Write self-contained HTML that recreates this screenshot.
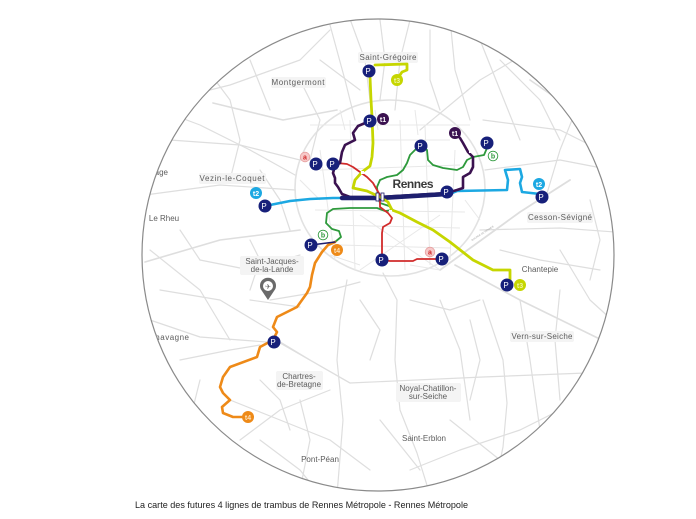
<!DOCTYPE html>
<html><head><meta charset="utf-8"><style>
html,body{margin:0;padding:0;background:#fff;}
svg{display:block}
</style></head><body>
<svg width="696" height="519" viewBox="0 0 696 519" xmlns="http://www.w3.org/2000/svg">
<defs><clipPath id="c"><circle cx="378" cy="255" r="236"/></clipPath></defs>
<rect width="696" height="519" fill="#fff"/>
<g clip-path="url(#c)">
 <g fill="none" stroke="#dedede" stroke-width="1.2" stroke-linecap="round" stroke-linejoin="round">
  <ellipse cx="390" cy="188" rx="95" ry="88" stroke="#e2e2e2" stroke-width="1.6"/>
  <path d="M350,19 L365,60 L370,100"/>
  <path d="M330,25 L345,80 L355,120"/>
  <path d="M410,20 L400,60 L395,110"/>
  <path d="M420,130 L480,80 L540,45"/>
  <path d="M450,19 L455,70 L470,120"/>
  <path d="M213,103 L283,120 L337,110" stroke-width="1.6"/>
  <path d="M150,105 L230,85 L300,60 L330,30"/>
  <path d="M485,170 L560,160 L612,170"/>
  <path d="M480,230 L560,228 L615,232"/>
  <path d="M483,120 L560,130 L600,150"/>
  <path d="M530,80 L563,103 L600,135" stroke-width="1.6"/>
  <path d="M295,190 L220,185 L145,195"/>
  <path d="M300,230 L220,240 L145,262" stroke-width="1.6"/>
  <path d="M170,140 L240,145 L300,160"/>
  <path d="M160,110 L200,125 L250,150 L295,175"/>
  <path d="M150,320 L200,337 L280,343 L350,383 L483,377 L612,372"/>
  <path d="M277,340 L310,360 L350,383"/>
  <path d="M347,280 L340,320 L337,360 L343,420 L337,495"/>
  <path d="M383,273 L397,300 L395,360 L400,410 L417,453 L430,495"/>
  <path d="M483,300 L503,360 L507,403 L503,447 L495,485"/>
  <path d="M455,265 L520,300 L612,345" stroke-width="1.6"/>
  <path d="M410,470 L460,450 L520,430 L580,400"/>
  <path d="M230,400 L280,420 L330,440 L370,470"/>
  <path d="M180,420 L220,440 L250,480"/>
  <path d="M440,270 L520,212 L570,180" stroke-width="1.8"/>
  <path d="M440,300 L460,350 L470,420"/>
  <path d="M160,290 L220,300 L270,330"/>
  <path d="M270,300 L330,290 L360,282"/>
  <path d="M200,260 L250,270 L300,255"/>
  <path d="M560,250 L590,300 L612,320"/>
  <path d="M300,80 L320,120 L310,160"/>
  <path d="M250,60 L270,110"/>
  <path d="M480,40 L500,90 L520,140"/>
  <path d="M560,290 L555,340 L560,400"/>
  <path d="M260,440 L300,470 L320,495"/>
  <path d="M150,250 L200,290 L230,340"/>
  <path d="M250,300 L300,307"/>
  <path d="M330,390 L280,410 L240,440"/>
  <path d="M450,420 L500,460"/>
  <path d="M200,60 L230,100 L240,140 L230,180"/>
  <path d="M380,20 L385,60 L380,100"/>
  <path d="M430,30 L430,80 L440,110"/>
  <path d="M500,60 L540,100 L560,140"/>
  <path d="M580,100 L560,150 L545,200"/>
  <path d="M500,250 L540,260 L600,270"/>
  <path d="M520,300 L530,360 L540,430"/>
  <path d="M560,420 L520,460 L480,480"/>
  <path d="M380,420 L420,470"/>
  <path d="M300,400 L310,440 L300,490"/>
  <path d="M180,360 L230,350 L260,345"/>
  <path d="M200,380 L190,420 L200,460"/>
  <path d="M260,380 L280,400 L290,430"/>
  <path d="M250,240 L260,260 L250,290"/>
  <path d="M180,230 L200,260"/>
  <path d="M260,170 L280,200 L290,230"/>
  <path d="M320,60 L360,90"/>
  <path d="M470,320 L480,360 L470,400"/>
  <path d="M410,300 L450,310 L480,300"/>
  <path d="M360,300 L380,330 L370,360"/>
  <path d="M590,200 L600,240 L590,280"/>
 </g>
 <g fill="none" stroke="#e8e8e8" stroke-width="1">
  <path d="M330,140 L450,140"/><path d="M320,170 L460,165"/><path d="M330,225 L460,228"/>
  <path d="M340,245 L450,248"/><path d="M350,120 L355,270"/><path d="M400,120 L405,270"/>
  <path d="M425,125 L430,265"/><path d="M320,150 L335,260"/><path d="M455,150 L450,260"/>
  <path d="M360,215 L440,270"/><path d="M440,215 L360,270"/>
  <path d="M310,125 L470,125"/><path d="M315,210 L465,212"/><path d="M340,110 L345,130"/>
  <path d="M375,110 L378,130"/><path d="M415,110 L418,135"/><path d="M300,180 L320,200"/>
  <path d="M465,200 L480,220"/><path d="M330,255 L360,265"/><path d="M410,265 L440,270"/>
 </g>
 <g font-family="Liberation Sans, sans-serif" font-size="8" fill="#5c5c5c" text-anchor="middle">
  <rect x="358" y="52" width="60" height="11" rx="2" fill="#f4f4f4"/>
  <text x="388" y="60" textLength="57">Saint-Grégoire</text>
  <rect x="271" y="77" width="55" height="11" rx="2" fill="#f4f4f4"/>
  <text x="298" y="85" textLength="53">Montgermont</text>
  <rect x="199" y="173" width="67" height="11" rx="2" fill="#f4f4f4"/>
  <text x="232" y="181" textLength="65">Vezin-le-Coquet</text>
  <text x="168" y="175" text-anchor="end">L'Hermitage</text>
  <text x="164" y="221">Le Rheu</text>
  <text x="189" y="340" text-anchor="end" textLength="40">Chavagne</text>
  <rect x="240" y="256" width="64" height="19" rx="2" fill="#f4f4f4"/>
  <text x="272" y="264">Saint-Jacques-</text>
  <text x="272" y="272">de-la-Lande</text>
  <rect x="276" y="371" width="47" height="19" rx="2" fill="#f4f4f4"/>
  <text x="299" y="379">Chartres-</text>
  <text x="299" y="387">de-Bretagne</text>
  <rect x="396" y="383" width="65" height="19" rx="2" fill="#f4f4f4"/>
  <text x="428" y="391">Noyal-Chatillon-</text>
  <text x="428" y="399">sur-Seiche</text>
  <text x="424" y="441">Saint-Erblon</text>
  <text x="320" y="462">Pont-Péan</text>
  <rect x="510" y="331" width="64" height="11" rx="2" fill="#f4f4f4"/>
  <text x="542" y="339" textLength="61">Vern-sur-Seiche</text>
  <text x="540" y="272">Chantepie</text>
  <rect x="527" y="212" width="66" height="11" rx="2" fill="#f4f4f4"/>
  <text x="560" y="220" textLength="64">Cesson-Sévigné</text>
  <text x="413" y="188" font-size="12" font-weight="bold" fill="#3a3a3a" textLength="41">Rennes</text>
  <text x="483" y="234" font-size="2.5" fill="#999" transform="rotate(-33 483 234)">ROCADE DE RENNES</text>
 </g>
 <!-- airport pin -->
 <path d="M268,300 L262,291 A8,8 0 1 1 274,291 Z" fill="#6a6a6a"/>
 <circle cx="268" cy="286" r="5" fill="#fff"/>
 <text x="268" y="289" font-family="DejaVu Sans, sans-serif" font-size="7" fill="#6a6a6a" text-anchor="middle">✈</text>
 <g fill="none" stroke-linecap="round" stroke-linejoin="round">
  <path d="M487,148 L484,155 L473,157 L467,160 L463,167 L457,170 L443,168 L433,165 L428,160 L427,150 L421,146 L417,148 L410,155 L407,163 L403,170 L397,175 L387,177 L380,180 L377,187 L378,197 L380,203 L389,206 L393,210 L385,211 L377,208 L350,208 L333,209 L327,213 L326,223 L332,229 L339,231 L341,237 L335,242" stroke="#2e9a3c" stroke-width="1.8"/>
  <path d="M337,163 L347,164 L353,167 L360,172 L367,177 L373,183 L377,190 L380,195 L380,207 L388,213 L392,218 L390,223 L383,227 L382,233 L382,260 L390,261 L413,261 L417,259 L440,259" stroke="#d12b2b" stroke-width="1.8"/>
  <path d="M265,206 L290,201 L310,199 L333,198 L347,198 L380,198 L447,195 L457,191 L507,190 L508,180 L505,170 L520,169 L522,177 L520,183 L522,192 L540,194" stroke="#1ca8e2" stroke-width="2.6"/>
  <path d="M370,121 L358,126 L353,133 L355,140 L345,145 L342,152 L340,163 L335,166 L333,173 L335,178 L335,183 L338,187 L342,194 L350,197 L380,197 L447,193 L457,190 L463,188 L463,177 L470,173 L473,167 L473,157 L468,152 L463,143 L460,138 L455,133" stroke="#3b1250" stroke-width="2.6"/>
  <path d="M342,198 L380,198 L447,194" stroke="#1e1f6e" stroke-width="4.5"/>
  <path d="M375,65 L407,64 L407,70 L402,72 L398,78" stroke="#c6d600" stroke-width="2.8"/>
  <path d="M370,77 L371,100 L372,117 L373,143 L372,157 L370,166 L362,172 L355,180 L353,188 L367,191 L380,197 L388,202 L392,210 L400,213 L417,222 L433,230 L450,242 L473,260 L493,270 L510,270 L510,282" stroke="#c6d600" stroke-width="2.8"/>
  <path d="M335,242 L328,245 L322,252 L315,263 L312,275 L310,287 L307,293 L297,307 L277,317 L273,327 L277,332 L273,340 L260,347 L257,357 L230,367 L223,377 L220,387 L223,393 L230,400 L222,407 L223,413 L233,417 L248,417" stroke="#ee8a18" stroke-width="2.6"/>
  <path d="M311,245 L335,242" stroke="#1e1f6e" stroke-width="1.5"/>
 </g>
 <rect x="376" y="193" width="3" height="8" fill="#fff" stroke="#1e1f6e" stroke-width="0.8"/>
 <rect x="381" y="193" width="3" height="8" fill="#fff" stroke="#1e1f6e" stroke-width="0.8"/>
 <rect x="361" y="171" width="3" height="3" fill="#fff"/>
 <rect x="389" y="210" width="3" height="3" fill="#fff"/>
 <rect x="469" y="150" width="3" height="3" fill="#fff"/>
 <g font-family="Liberation Sans, sans-serif" font-weight="bold" text-anchor="middle">
  <g fill="#17207a">
   <circle cx="369" cy="71" r="6.5"/><circle cx="370" cy="121" r="6.5"/>
   <circle cx="316" cy="164" r="6.5"/><circle cx="333" cy="164" r="6.5"/>
   <circle cx="421" cy="146" r="6.5"/><circle cx="487" cy="143" r="6.5"/>
   <circle cx="447" cy="192" r="6.5"/><circle cx="542" cy="197" r="6.5"/>
   <circle cx="265" cy="206" r="6.5"/><circle cx="311" cy="245" r="6.5"/>
   <circle cx="382" cy="260" r="6.5"/><circle cx="442" cy="259" r="6.5"/>
   <circle cx="507" cy="285" r="6.5"/><circle cx="274" cy="342" r="6.5"/>
  </g>
  <g fill="#fff" font-size="8" font-weight="normal">
   <text x="368" y="74">P</text><text x="369" y="124">P</text>
   <text x="315" y="167">P</text><text x="332" y="167">P</text>
   <text x="420" y="149">P</text><text x="486" y="146">P</text>
   <text x="446" y="195">P</text><text x="541" y="200">P</text>
   <text x="264" y="209">P</text><text x="310" y="248">P</text>
   <text x="381" y="263">P</text><text x="441" y="262">P</text>
   <text x="506" y="288">P</text><text x="273" y="345">P</text>
  </g>
  <circle cx="397" cy="80" r="6" fill="#c6d600"/><text x="397" y="83" font-size="7" fill="#eef5a0">t3</text>
  <circle cx="520" cy="285" r="6" fill="#c6d600"/><text x="520" y="288" font-size="7" fill="#eef5a0">t3</text>
  <circle cx="383" cy="119" r="6" fill="#3b1250"/><text x="383" y="122" font-size="7" fill="#fff">t1</text>
  <circle cx="455" cy="133" r="6" fill="#3b1250"/><text x="455" y="136" font-size="7" fill="#fff">t1</text>
  <circle cx="256" cy="193" r="6" fill="#1ca8e2"/><text x="256" y="196" font-size="7" fill="#fff">t2</text>
  <circle cx="539" cy="184" r="6" fill="#1ca8e2"/><text x="539" y="187" font-size="7" fill="#fff">t2</text>
  <circle cx="337" cy="250" r="6" fill="#ee8a18"/><text x="337" y="253" font-size="7" fill="#fde0b8">t4</text>
  <circle cx="248" cy="417" r="6" fill="#ee8a18"/><text x="248" y="420" font-size="7" fill="#fde0b8">t4</text>
  <circle cx="305" cy="157" r="4.8" fill="#f6c9c9" stroke="#e7a0a0" stroke-width="0.8"/><text x="305" y="159.5" font-size="7" fill="#d12b2b">a</text>
  <circle cx="430" cy="252" r="4.8" fill="#f6c9c9" stroke="#e7a0a0" stroke-width="0.8"/><text x="430" y="254.5" font-size="7" fill="#d12b2b">a</text>
  <circle cx="493" cy="156" r="4.8" fill="#fff" stroke="#2e9a3c" stroke-width="0.9"/><text x="493" y="158.5" font-size="7" fill="#2e9a3c">b</text>
  <circle cx="323" cy="235" r="4.8" fill="#fff" stroke="#2e9a3c" stroke-width="0.9"/><text x="323" y="237.5" font-size="7" fill="#2e9a3c">b</text>
 </g>
</g>
<circle cx="378" cy="255" r="236" fill="none" stroke="#8a8a8a" stroke-width="1.2"/>
<text x="135" y="508" font-family="Liberation Sans, sans-serif" font-size="9.5" fill="#222" textLength="333" lengthAdjust="spacingAndGlyphs">La carte des futures 4 lignes de trambus de Rennes Métropole - Rennes Métropole</text>
</svg>
</body></html>
